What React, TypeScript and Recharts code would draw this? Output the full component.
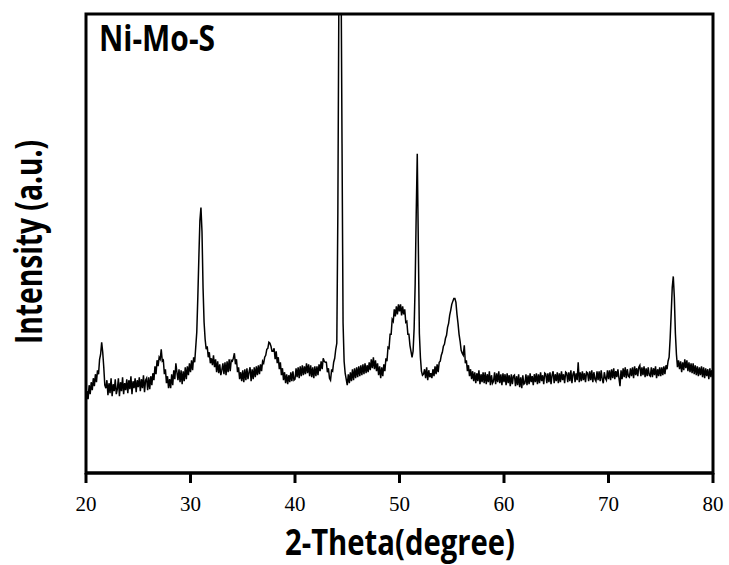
import { LineChart, Line, XAxis, YAxis, ReferenceArea, Label } from "recharts";

// XRD scan, 2θ = 20.0 … 80.0 in 0.1° steps, intensity in a.u.
const thetaStart = 20;
const thetaStep = 0.1;

// one row per degree (x.0 … x.9)
const intensity = [
  70, 82, 74, 88, 79, 91, 83, 95, 87, 99, // 20
  91, 103, 99, 114, 119, 131, 121, 106, 88, 85, // 21
  93, 78, 90, 80, 95, 77, 89, 82, 94, 79, // 22
  84, 95, 77, 91, 82, 96, 79, 90, 83, 94, // 23
  80, 93, 84, 97, 79, 92, 85, 95, 81, 93, // 24
  86, 96, 82, 94, 85, 98, 81, 93, 95, 83, // 25
  96, 84, 97, 88, 100, 93, 107, 99, 113, 107, // 26
  116, 114, 124, 112, 113, 99, 104, 90, 97, 85, // 27
  94, 85, 99, 88, 103, 94, 110, 101, 93, 104, // 28
  91, 103, 89, 102, 92, 106, 94, 107, 98, 110, // 29
  101, 113, 103, 116, 111, 126, 141, 176, 216, 253, // 30
  266, 242, 186, 151, 134, 124, 127, 116, 121, 110, // 31
  115, 108, 118, 106, 114, 101, 112, 100, 109, 98, // 32
  103, 110, 99, 111, 98, 112, 101, 114, 102, 113, // 33
  112, 115, 120, 109, 114, 101, 106, 94, 101, 92, // 34
  103, 91, 104, 93, 105, 94, 101, 106, 92, 104, // 35
  94, 106, 96, 107, 98, 108, 99, 109, 102, 112, // 36
  110, 116, 118, 124, 125, 131, 130, 127, 122, 122, // 37
  125, 114, 122, 110, 116, 104, 111, 98, 105, 93, // 38
  101, 90, 99, 89, 98, 91, 101, 92, 102, 93, // 39
  94, 105, 96, 106, 95, 107, 97, 108, 98, 107, // 40
  99, 110, 100, 109, 97, 108, 96, 106, 95, 107, // 41
  97, 107, 98, 109, 102, 112, 104, 115, 112, 111, // 42
  111, 101, 105, 95, 93, 103, 102, 111, 115, 124, // 43
  130, 260, 480, 560, 520, 330, 150, 112, 100, 94, // 44
  88, 99, 90, 101, 92, 104, 93, 105, 95, 106, // 45
  96, 107, 97, 108, 98, 109, 99, 110, 100, 108, // 46
  101, 111, 103, 114, 105, 116, 104, 113, 102, 110, // 47
  98, 107, 95, 106, 97, 109, 102, 115, 112, 126, // 48
  125, 139, 139, 154, 152, 164, 157, 167, 159, 169, // 49
  162, 169, 158, 167, 159, 164, 151, 152, 139, 139, // 50
  128, 122, 116, 122, 145, 190, 260, 320, 230, 140, // 51
  116, 102, 98, 99, 104, 95, 106, 93, 103, 96, // 52
  100, 95, 104, 97, 107, 99, 109, 101, 111, 112, // 53
  118, 121, 127, 129, 135, 138, 146, 150, 158, 163, // 54
  169, 172, 175, 175, 171, 159, 150, 139, 132, 123, // 55
  120, 118, 128, 110, 113, 102, 108, 97, 104, 94, // 56
  102, 92, 101, 90, 100, 92, 103, 89, 99, 91, // 57
  101, 90, 101, 89, 99, 91, 102, 88, 98, 90, // 58
  92, 101, 89, 100, 91, 102, 90, 99, 88, 100, // 59
  91, 99, 88, 100, 90, 98, 87, 99, 89, 97, // 60
  98, 87, 97, 88, 99, 86, 96, 85, 98, 89, // 61
  90, 99, 88, 98, 89, 100, 91, 97, 88, 99, // 62
  91, 100, 89, 99, 90, 101, 92, 98, 89, 100, // 63
  99, 90, 100, 91, 101, 89, 98, 102, 90, 99, // 64
  92, 101, 90, 100, 91, 102, 93, 99, 90, 101, // 65
  100, 91, 101, 92, 103, 90, 99, 102, 91, 100, // 66
  93, 111, 91, 101, 92, 102, 93, 100, 91, 101, // 67
  100, 92, 102, 93, 103, 91, 101, 94, 92, 102, // 68
  93, 102, 92, 103, 94, 90, 101, 95, 93, 103, // 69
  94, 103, 93, 104, 95, 105, 94, 102, 96, 104, // 70
  95, 87, 103, 94, 105, 96, 106, 95, 104, 97, // 71
  96, 105, 97, 106, 95, 107, 98, 105, 97, 106, // 72
  108, 97, 106, 98, 107, 96, 105, 97, 106, 98, // 73
  97, 106, 96, 105, 98, 107, 95, 104, 97, 106, // 74
  97, 106, 98, 107, 99, 108, 104, 112, 116, 135, // 75
  160, 186, 197, 176, 140, 119, 106, 113, 104, 112, // 76
  101, 111, 103, 114, 105, 113, 102, 111, 101, 110, // 77
  100, 110, 99, 108, 98, 107, 97, 106, 98, 107, // 78
  96, 106, 95, 105, 97, 104, 94, 105, 96, 103, // 79
  97, // 80
];

const xTicks = [20, 30, 40, 50, 60, 70, 80];
const sampleName = "Ni-Mo-S";
const xTitle = "2-Theta(degree)";
const yTitle = "Intensity (a.u.)";

const data = intensity.map((v, i) => ({
  theta: Number((thetaStart + i * thetaStep).toFixed(1)),
  counts: v,
}));

const boldFont = "'Open Sans', 'DejaVu Sans', sans-serif";

function Titles() {
  return (
    <g>
      <text
        x={99}
        y={51}
        fontFamily={boldFont}
        fontWeight={700}
        fontSize={35}
        fill="#000"
        textLength={116}
        lengthAdjust="spacingAndGlyphs"
      >
        {sampleName}
      </text>
      <text
        x={400}
        y={555}
        textAnchor="middle"
        fontFamily={boldFont}
        fontWeight={700}
        fontSize={35}
        fill="#000"
        textLength={230}
        lengthAdjust="spacingAndGlyphs"
      >
        {xTitle}
      </text>
      <text
        transform="translate(42, 242) rotate(-90)"
        textAnchor="middle"
        fontFamily={boldFont}
        fontWeight={700}
        fontSize={38}
        fill="#000"
        textLength={204}
        lengthAdjust="spacingAndGlyphs"
      >
        {yTitle}
      </text>
    </g>
  );
}

export default function App() {
  return (
    <div style={{ position: "absolute", left: 0, top: 0, width: 729, height: 565, background: "#fff" }}>
      <LineChart
        width={729}
        height={565}
        data={data}
        margin={{ top: 14, right: 16, left: 86, bottom: 0 }}
      >
        <XAxis
          dataKey="theta"
          type="number"
          domain={[20, 80]}
          ticks={xTicks}
          height={92}
          tickSize={10}
          tickMargin={13}
          axisLine={{ stroke: "#000", strokeWidth: 3 }}
          tickLine={{ stroke: "#000", strokeWidth: 3 }}
          tick={{ fill: "#000", fontSize: 21, fontFamily: "'Liberation Serif', serif" }}
          allowDataOverflow
        >
          <Label content={() => <Titles />} />
        </XAxis>
        <YAxis hide type="number" domain={[0, 460]} allowDataOverflow />
        <Line
          type="linear"
          dataKey="counts"
          stroke="#000"
          strokeWidth={1.5}
          dot={false}
          activeDot={false}
          isAnimationActive={false}
        />
        <ReferenceArea
          x1={20}
          x2={80}
          y1={0}
          y2={460}
          fill="none"
          stroke="#000"
          strokeWidth={3}
          fillOpacity={0}
        />
      </LineChart>
    </div>
  );
}
